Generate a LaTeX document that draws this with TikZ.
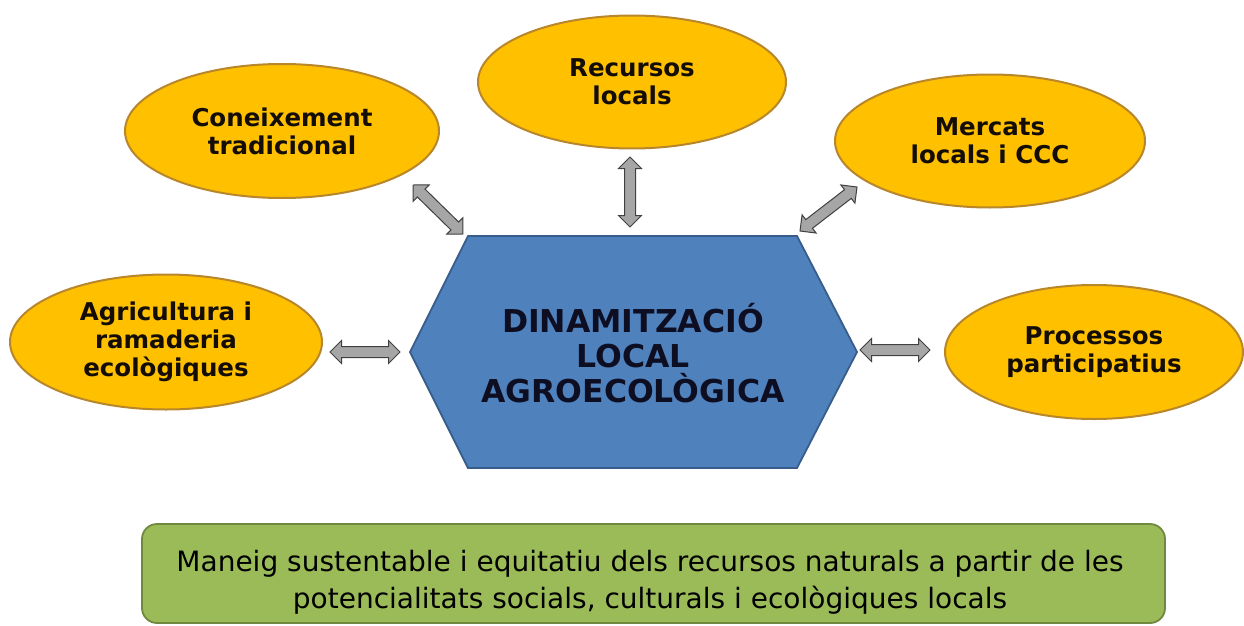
\documentclass[tikz,border=0pt]{standalone}
\usepackage{fontspec}
\usetikzlibrary{shapes.geometric,shapes.arrows,calc}
\newfontfamily\dvfont{DejaVu Sans}

\definecolor{bubblefill}{RGB}{255,192,0}
\definecolor{bubbleline}{RGB}{184,134,43}
\definecolor{hubfill}{RGB}{79,129,189}
\definecolor{hubline}{RGB}{56,93,138}
\definecolor{hubtext}{RGB}{14,14,34}
\definecolor{goalfill}{RGB}{155,187,89}
\definecolor{goalline}{RGB}{113,137,63}
\definecolor{arrowfill}{RGB}{166,166,166}

% two-way block arrow between two named points
\newcommand{\twoway}[2]{%
  \path let \p1=($(#2)-(#1)$), \n1={veclen(\x1,\y1)} in
    (#1) -- (#2) node[twoarrow, midway, sloped, minimum height=\n1] {\rule{0pt}{10pt}};}

\begin{document}
\begin{tikzpicture}[
		x=1pt, y=-1pt,
		bubble/.style={ellipse, draw=bubbleline, line width=2pt, fill=bubblefill,
			inner sep=0pt, align=center, text=black!90!brown,
			font=\dvfont\bfseries\fontsize{24.5}{28}\selectfont},
		hubshape/.style={draw=hubline, line width=1.8pt, fill=hubfill, line join=miter},
		hubtxt/.style={inner sep=0pt, align=center, text=hubtext,
			font=\dvfont\bfseries\fontsize{31.5}{35}\selectfont},
		goalbox/.style={rounded corners=15pt, draw=goalline, line width=1.8pt, fill=goalfill},
		goaltxt/.style={inner sep=0pt, align=center, text=black,
			font=\dvfont\fontsize{28}{37}\selectfont},
		twoarrow/.style={double arrow, draw=black!75, line width=1pt, fill=arrowfill,
			inner sep=0pt, double arrow head extend=6pt, double arrow tip angle=90}
		]
		\useasboundingbox (0,0) rectangle (1244,626);

		% central hexagon
		\draw[hubshape] (468,236) -- (797,236) -- (857,352) -- (797,468)
			-- (468,468) -- (410,352) -- cycle;
		\node[hubtxt] (hub) at (633,353) {DINAMITZACIÓ\\LOCAL\\AGROECOLÒGICA};

		% the five ellipses round it
		\node[bubble, minimum width=314pt, minimum height=134pt] (coneix) at (282,131) {Coneixement\\tradicional};
		\node[bubble, minimum width=308pt, minimum height=133pt] (recursos) at (632,82) {Recursos\\locals};
		\node[bubble, minimum width=310pt, minimum height=133pt] (mercats) at (990,141) {Mercats\\locals i CCC};
		\node[bubble, minimum width=312pt, minimum height=135pt] (agri) at (166,342) {Agricultura i\\ramaderia\\ecològiques};
		\node[bubble, minimum width=298pt, minimum height=134pt] (process) at (1094,352) {Processos\\participatius};

		% arrow ends
		\coordinate (c1) at (413,185);  \coordinate (c2) at (463,234);
		\coordinate (r1) at (630,157);  \coordinate (r2) at (630,227);
		\coordinate (m1) at (857,187);  \coordinate (m2) at (800,231);
		\coordinate (a1) at (330,352);  \coordinate (a2) at (400,352);
		\coordinate (p1) at (860,350);  \coordinate (p2) at (930,350);

		\twoway{c1}{c2}
		\twoway{r1}{r2}
		\twoway{m2}{m1}
		\twoway{a1}{a2}
		\twoway{p1}{p2}

		% aim at the bottom
		\draw[goalbox] (142,524) rectangle (1165,623);
		\node[goaltxt] (aim) at (650,582) {Maneig sustentable i equitatiu dels recursos naturals a partir de les\\potencialitats socials, culturals i ecològiques locals};
	\end{tikzpicture}
\end{document}
